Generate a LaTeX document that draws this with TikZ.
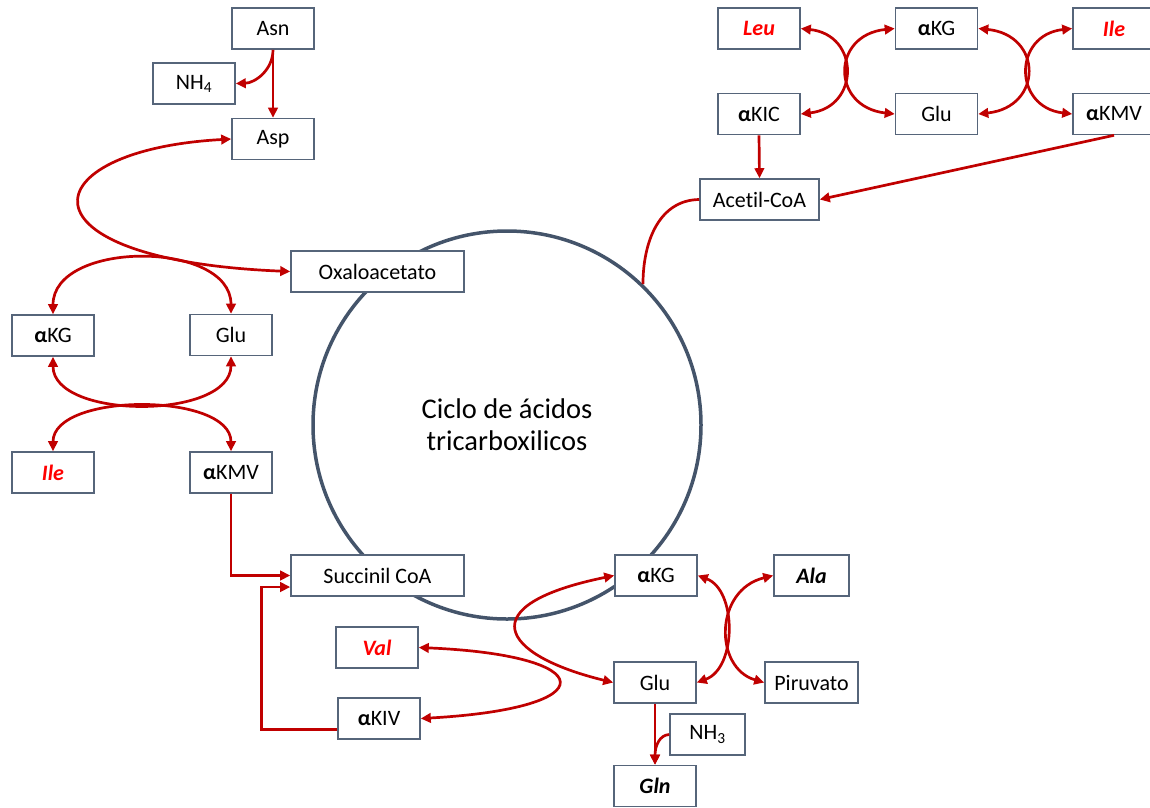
\documentclass[tikz,border=0pt]{standalone}
\usepackage{fontspec}
\setmainfont{Carlito}[Ligatures={NoCommon}]
\usetikzlibrary{arrows.meta}
\definecolor{boxc}{HTML}{56657A}
\definecolor{ringc}{HTML}{44546A}
\definecolor{arrc}{HTML}{C00000}
\definecolor{aared}{HTML}{FF0000}
\newcommand\bfalpha{{\bfseries α}}
\begin{document}
\begin{tikzpicture}[x=1pt,y=-1pt,
  box/.style={draw=boxc, line width=1.6pt, fill=white, minimum width=82pt,
    minimum height=41pt, inner sep=0pt, font=\fontsize{22}{24}\selectfont},
  redaa/.style={text=aared, font=\fontsize{22}{24}\selectfont\bfseries\itshape},
  blkaa/.style={font=\fontsize{22}{24}\selectfont\bfseries\itshape},
  tip/.tip={Triangle[length=10pt,width=9.5pt]},
  arr/.style={draw=arrc, line width=2.7pt, -tip},
  darr/.style={draw=arrc, line width=2.7pt, tip-tip},
  link/.style={draw=arrc, line width=2.7pt}]
\useasboundingbox (0,0) rectangle (1150,807);

% citric acid cycle
\node[circle, draw=ringc, line width=3.5pt, minimum size=388pt, inner sep=0pt,
  align=center, font=\fontsize{28.5}{32}\selectfont] (tca) at (507,425)
  {Ciclo de ácidos\\tricarboxilicos};

% asparagine / aspartate
\node[box] (asn) at (273,28.5) {Asn};
\node[box] (nh4) at (194,83.5) {NH\textsubscript{4}};
\node[box] (asp) at (273,139) {Asp};
\node[box, minimum width=173pt] (oxa) at (377.5,271.5) {Oxaloacetato};

% left transamination block
\node[box] (akgl) at (53,335.5) {\bfalpha KG};
\node[box] (glul) at (231,335) {Glu};
\node[box, redaa] (ilel) at (53,472.5) {Ile};
\node[box] (akmvl) at (231,472.5) {\bfalpha KMV};
\node[box, minimum width=173pt] (succ) at (377.5,575.5) {Succinil CoA};

% valine
\node[box, redaa] (val) at (377,647.5) {Val};
\node[box] (akiv) at (379,718.5) {\bfalpha KIV};

% glutamate / alanine / glutamine
\node[box] (akgb) at (656,575.5) {\bfalpha KG};
\node[box] (glub) at (655,682.5) {Glu};
\node[box, blkaa] (gln) at (655,786) {Gln};
\node[box, minimum width=75pt] (nh3) at (707.5,734.5) {NH\textsubscript{3}};
\node[box, blkaa, minimum width=75pt] (ala) at (811.5,575.5) {Ala};
\node[box, minimum width=93pt] (pir) at (811.5,682.5) {Piruvato};

% leucine / isoleucine
\node[box, redaa] (leu) at (759,28.5) {Leu};
\node[box] (akgt) at (936.5,28.5) {\bfalpha KG};
\node[box, redaa] (ilet) at (1114,28.5) {Ile};
\node[box] (akic) at (759,114) {\bfalpha KIC};
\node[box] (glut) at (936.5,114) {Glu};
\node[box] (akmvt) at (1114,114) {\bfalpha KMV};
\node[box, minimum width=119pt] (acet) at (759.5,199.5) {Acetil-CoA};

% connectors: asparagine
\draw[arr] (asn.south) -- (asp.north);
\draw[arr] (asn.south) .. controls (273,70) and (255,83) .. (nh4.east);
\draw[darr] (asp.west) .. controls (30,150) and (10,260) .. (oxa.west);

% connectors: left block
\draw[darr] (akgl.north) .. controls (53,240) and (231,240) .. (glul.north);
\draw[darr] (akgl.south) .. controls (53,420) and (231,420) .. (glul.south);
\draw[darr] (ilel.north) .. controls (53,392) and (231,392) .. (akmvl.north);
\draw[arr] (akmvl.south) |- (succ.west);
\draw[arr] ([yshift=-11pt]akiv.west) -- ++(-76,0) |- ([yshift=-11.5pt]succ.west);

% connectors: bottom block
\draw[darr] (akgb.west) .. controls (470,605) and (500,655) .. (glub.west);
\draw[darr] (val.east) .. controls (600,655) and (608,708) .. (akiv.east);
\draw[darr] (akgb.east) .. controls (737,590) and (737,668) .. (glub.east);
\draw[darr] (ala.west) .. controls (714,590) and (714,668) .. (pir.west);
\draw[arr] (glub.south) -- (gln.north);
\draw[arr] (nh3.west) .. controls (660,735) and (655,745) .. (gln.north);

% connectors: top block
\draw[darr] (leu.east) .. controls (860,35) and (860,107) .. (akic.east);
\draw[darr] (akgt.west) .. controls (831,35) and (831,107) .. (glut.west);
\draw[darr] (akgt.east) .. controls (1043,35) and (1043,107) .. (glut.east);
\draw[darr] (ilet.west) .. controls (1013,35) and (1013,107) .. (akmvt.west);
\draw[arr] (akic.south) -- (acet.north);
\draw[arr] (akmvt.south) -- (acet.east);
\draw[link] (acet.west) .. controls (660,200) and (643,240) .. (tca.46);
\end{tikzpicture}
\end{document}
